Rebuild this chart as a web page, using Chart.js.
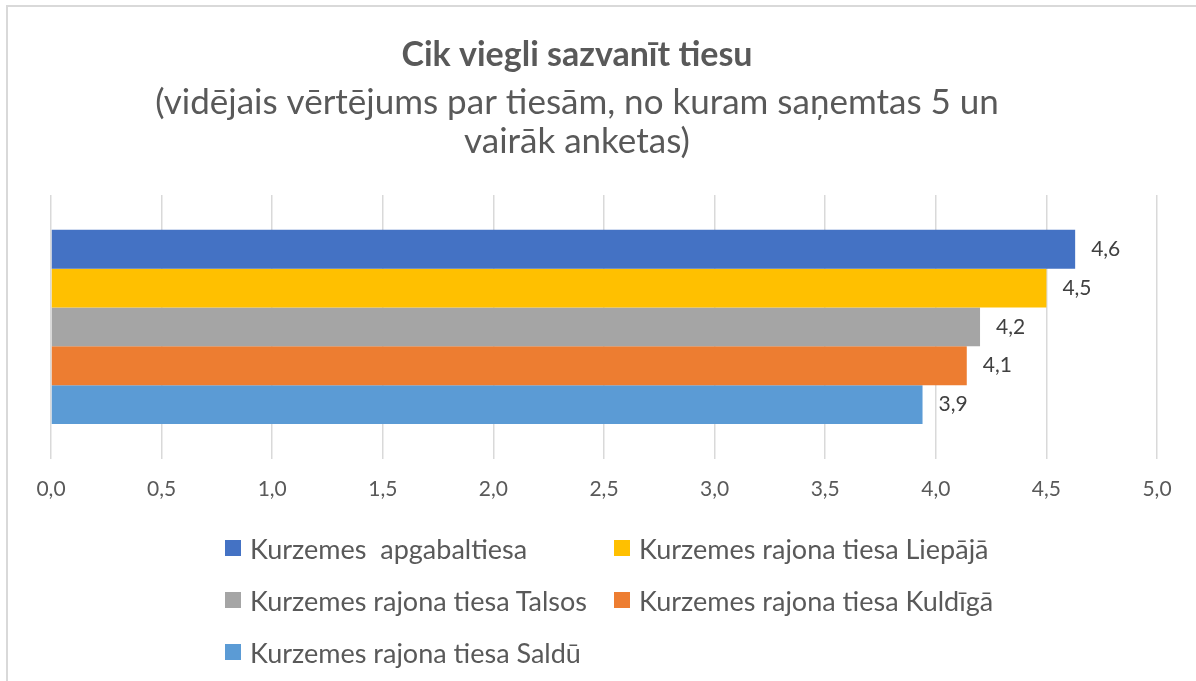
<!DOCTYPE html>
<html>
<head>
<meta charset="utf-8">
<script src="https://cdn.jsdelivr.net/npm/chart.js@4.4.1/dist/chart.umd.min.js"></script>
<style>
  html, body { margin: 0; padding: 0; background: #fff; }
  body { width: 1196px; height: 681px; position: relative; overflow: hidden; font-family: Lato, sans-serif; }
  #frame { position: absolute; left: 6px; top: 5px; width: 1300px; height: 800px; border: 2px solid #d9d9d9; box-sizing: border-box; }
  #wrap { position: absolute; left: 0; top: 0; width: 1196px; height: 681px; }
  #legend { position: absolute; left: 225px; top: 522px; display: grid; grid-template-columns: 389px auto; }
  #legend .item { height: 52px; display: flex; align-items: center; font-size: 27px; color: #595959; white-space: pre; }
  #legend .box { width: 16px; height: 16px; margin-right: 9px; flex: none; }
</style>
</head>
<body>
<div id="frame"></div>
<div id="wrap"><canvas id="chart" width="1196" height="681"></canvas></div>
<div id="legend"></div>
<script>
// Cik viegli sazvanīt tiesu
const courts = [
  "Kurzemes  apgabaltiesa",
  "Kurzemes rajona tiesa Liepājā",
  "Kurzemes rajona tiesa Talsos",
  "Kurzemes rajona tiesa Kuldīgā",
  "Kurzemes rajona tiesa Saldū",
];
const scores = [4.63, 4.5, 4.2, 4.14, 3.94];
const colors = ["#4472c4", "#ffc000", "#a5a5a5", "#ed7d31", "#5b9bd5"];
const xTicks = [0, 0.5, 1, 1.5, 2, 2.5, 3, 3.5, 4, 4.5, 5];

const titleText = "Cik viegli sazvanīt tiesu";
const subtitleLines = [
  "(vidējais vērtējums par tiesām, no kuram saņemtas 5 un",
  "vairāk anketas)",
];

const fmt = (v) => v.toFixed(1).replace(".", ",");

// title drawn centred over the chart box
const titlePlugin = {
  id: "titles",
  afterDraw(chart) {
    const ctx = chart.ctx;
    ctx.save();
    ctx.fillStyle = "#595959";
    ctx.textAlign = "center";
    ctx.textBaseline = "middle";
    ctx.font = "bold 34px Lato";
    ctx.fillText(titleText, 577, 55);
    ctx.font = "35px Lato";
    subtitleLines.forEach((line, i) => ctx.fillText(line, 577, 103 + i * 39));
    ctx.restore();
  },
};

// value labels at the end of each bar
const valuePlugin = {
  id: "values",
  afterDatasetsDraw(chart) {
    const ctx = chart.ctx;
    ctx.save();
    ctx.fillStyle = "#404040";
    ctx.font = "21px Lato";
    ctx.textAlign = "left";
    ctx.textBaseline = "middle";
    chart.data.datasets.forEach((ds, i) => {
      const bar = chart.getDatasetMeta(i).data[0];
      ctx.fillText(fmt(ds.data[0]), bar.x + 16, bar.y);
    });
    ctx.restore();
  },
};

const chart = new Chart(document.getElementById("chart"), {
  type: "bar",
  data: {
    labels: [""],
    datasets: courts.map((name, i) => ({
      label: name,
      data: [scores[i]],
      backgroundColor: colors[i],
      borderWidth: 0,
    })),
  },
  options: {
    indexAxis: "y",
    responsive: false,
    animation: false,
    layout: { padding: { left: 51, right: 39, top: 195, bottom: 161 } },
    datasets: { bar: { categoryPercentage: 0.736, barPercentage: 1 } },
    scales: {
      x: {
        min: 0,
        max: 5,
        afterBuildTicks: (axis) => { axis.ticks = xTicks.map((v) => ({ value: v })); },
        grid: { color: "#d9d9d9", lineWidth: 1.5, drawTicks: false },
        border: { display: false },
        ticks: {
          padding: 18,
          color: "#595959",
          font: { family: "Lato", size: 21 },
          callback: (v) => fmt(v),
        },
      },
      y: { display: false },
    },
    plugins: {
      legend: { display: false },
      tooltip: { enabled: false },
    },
  },
  plugins: [titlePlugin, valuePlugin],
});

// legend in two columns, like the original
const legendEl = document.getElementById("legend");
courts.forEach((name, i) => {
  const item = document.createElement("div");
  item.className = "item";
  item.innerHTML = `<span class="box" style="background:${colors[i]}"></span>`;
  item.appendChild(document.createTextNode(name));
  legendEl.appendChild(item);
});
</script>
</body>
</html>
